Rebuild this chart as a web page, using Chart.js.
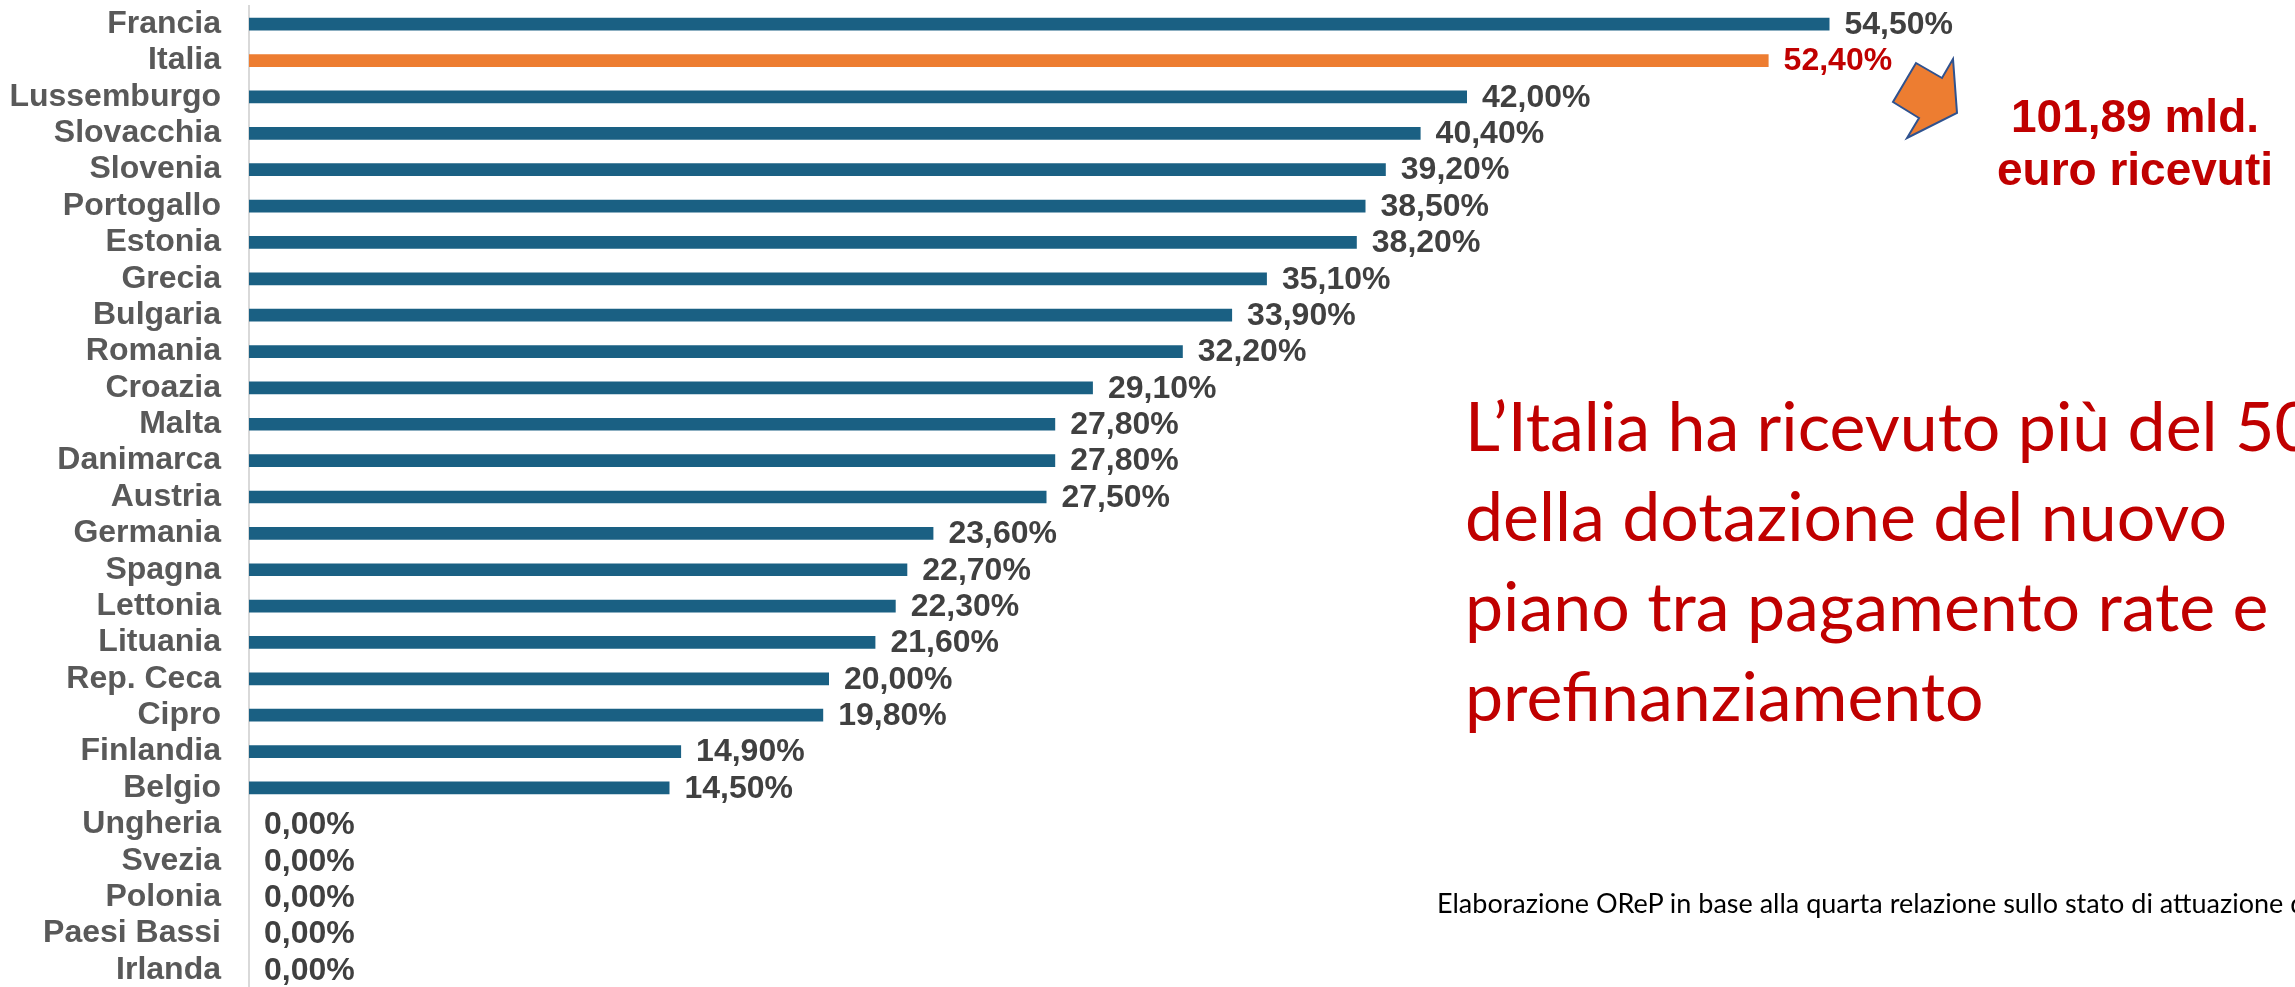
<!DOCTYPE html>
<html lang="it">
<head>
<meta charset="utf-8">
<title>Quota ricevuta della dotazione PNRR</title>
<script src="https://cdn.jsdelivr.net/npm/chart.js@4.4.1/dist/chart.umd.min.js"></script>
<style>
  html, body { margin: 0; padding: 0; background: #fff; overflow: hidden; width: 2295px; height: 987px; }
  #wrap { position: relative; width: 2295px; height: 987px; overflow: hidden; }
  #chart { position: absolute; left: 0; top: 0; }
  .note { position: absolute; white-space: nowrap; color: #C00000; }
  #amount { left: 1990px; top: 90px; width: 290px; text-align: center; font: bold 46px/53px "Liberation Sans", Arial, sans-serif; }
  #claim { left: 1465px; top: 380px; font: 68px/90px Lato, "Noto Sans", sans-serif; }
  #source { left: 1437px; top: 888px; color: #000; font: 27px/30px Lato, "Noto Sans", sans-serif; }
</style>
</head>
<body>
<div id="wrap">
  <canvas id="chart" width="2295" height="990"></canvas>

  <svg width="2295" height="987" style="position:absolute;left:0;top:0">
    <polygon points="1916,63 1942,78 1953,59 1957,113 1907,138 1919,118 1893,102"
             fill="#ED7D31" stroke="#2F528F" stroke-width="2" stroke-linejoin="miter"/>
  </svg>

  <div class="note" id="amount">101,89 mld.<br>euro ricevuti</div>
  <div class="note" id="claim">L’Italia ha ricevuto più del 50%<br>della dotazione del nuovo<br>piano tra pagamento rate e<br>prefinanziamento</div>
  <div class="note" id="source">Elaborazione OReP in base alla quarta relazione sullo stato di attuazione del PNRR</div>
</div>

<script>
// paesi, dall'alto verso il basso
const countries = ['Francia', 'Italia', 'Lussemburgo', 'Slovacchia', 'Slovenia', 'Portogallo', 'Estonia',
  'Grecia', 'Bulgaria', 'Romania', 'Croazia', 'Malta', 'Danimarca', 'Austria', 'Germania', 'Spagna',
  'Lettonia', 'Lituania', 'Rep. Ceca', 'Cipro', 'Finlandia', 'Belgio', 'Ungheria', 'Svezia', 'Polonia',
  'Paesi Bassi', 'Irlanda'];

// quota della dotazione ricevuta (%)
const shares = [54.5, 52.4, 42.0, 40.4, 39.2, 38.5, 38.2, 35.1, 33.9, 32.2, 29.1, 27.8, 27.8, 27.5,
  23.6, 22.7, 22.3, 21.6, 20.0, 19.8, 14.9, 14.5, 0, 0, 0, 0, 0];

const highlight = 'Italia';

const BLUE = '#1A6083';
const ORANGE = '#ED7D31';

const fmt = v => v.toFixed(2).replace('.', ',') + '%';

// etichette dei valori a destra delle barre
const valueLabels = {
  id: 'valueLabels',
  afterDatasetsDraw(chart) {
    const ctx = chart.ctx;
    const meta = chart.getDatasetMeta(0);
    ctx.save();
    ctx.font = 'bold 32px "Liberation Sans", Arial, sans-serif';
    ctx.textBaseline = 'middle';
    ctx.textAlign = 'left';
    meta.data.forEach((bar, i) => {
      ctx.fillStyle = countries[i] === highlight ? '#C00000' : '#404040';
      ctx.fillText(fmt(shares[i]), bar.x + 15, bar.y + 1);
    });
    ctx.restore();
  }
};

new Chart(document.getElementById('chart'), {
  type: 'bar',
  data: {
    labels: countries,
    datasets: [{
      data: shares,
      backgroundColor: countries.map(c => c === highlight ? ORANGE : BLUE),
      borderWidth: 0,
      categoryPercentage: 1,
      barPercentage: 0.35
    }]
  },
  options: {
    indexAxis: 'y',
    responsive: false,
    animation: false,
    devicePixelRatio: 1,
    layout: { padding: { top: 6, bottom: 2, left: 0, right: 16 } },
    plugins: {
      legend: { display: false },
      tooltip: { enabled: false }
    },
    scales: {
      x: {
        display: false,
        min: 0,
        max: 70
      },
      y: {
        afterFit: s => { s.width = 249; s.paddingTop = 0; s.paddingBottom = 0; },
        grid: { display: false, drawTicks: false },
        border: { display: true, color: '#D9D9D9', width: 2 },
        ticks: {
          autoSkip: false,
          padding: 28,
          color: '#595959',
          font: { family: '"Liberation Sans", Arial, sans-serif', size: 32, weight: 'bold', lineHeight: 1 }
        }
      }
    }
  },
  plugins: [valueLabels]
});
</script>
</body>
</html>
